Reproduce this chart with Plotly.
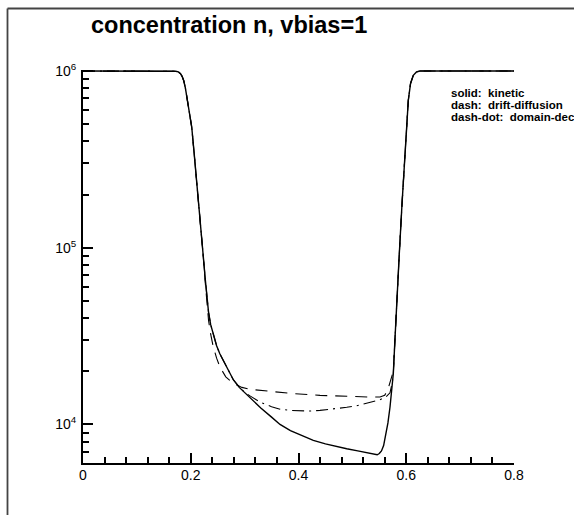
import plotly.graph_objects as go

# ---- data ----
x_kinetic = [0.000, 0.100, 0.165, 0.172, 0.177, 0.181, 0.184, 0.187, 0.190, 0.193, 0.196, 0.199,
             0.2018, 0.2060, 0.2111, 0.2172, 0.2230, 0.2270, 0.2300, 0.2330, 0.2370, 0.2419,
             0.2480, 0.2540, 0.2604, 0.2700, 0.2790, 0.2900, 0.3000, 0.3100, 0.3300, 0.3500,
             0.3657, 0.3850, 0.4050, 0.4275, 0.4500, 0.4700, 0.4895, 0.5100, 0.5300, 0.5400,
             0.5460, 0.5500, 0.5540, 0.5580, 0.5620, 0.5660, 0.5698, 0.5730, 0.5760, 0.5790,
             0.5823, 0.5870, 0.5920, 0.5977, 0.6010, 0.6038, 0.6080, 0.6131, 0.6190, 0.6255,
             0.7000, 0.8000]
n_kinetic = [1.00e6, 1.00e6, 1.00e6, 9.98e5, 9.89e5, 9.66e5, 9.33e5, 8.81e5, 8.04e5, 7.08e5,
             6.17e5, 5.37e5, 4.82e5, 3.51e5, 2.40e5, 1.46e5, 9.12e4, 6.61e4, 5.19e4, 4.32e4,
             3.67e4, 3.20e4, 2.79e4, 2.51e4, 2.29e4, 2.00e4, 1.79e4, 1.62e4, 1.51e4, 1.41e4,
             1.24e4, 1.10e4, 1.00e4, 9.23e3, 8.67e3, 8.13e3, 7.76e3, 7.50e3, 7.28e3, 7.08e3,
             6.89e3, 6.76e3, 6.73e3, 6.84e3, 7.08e3, 7.59e3, 8.61e3, 1.02e4, 1.25e4, 1.55e4,
             1.94e4, 3.02e4, 5.04e4, 9.12e4, 1.74e5, 3.56e5, 5.25e5, 6.82e5, 8.51e5, 9.46e5,
             9.89e5, 1.00e6, 1.00e6, 1.00e6]

x_drift = [0.000, 0.100, 0.165, 0.172, 0.177, 0.181, 0.184, 0.187, 0.190, 0.193, 0.196, 0.199,
           0.2018, 0.2060, 0.2111, 0.2172, 0.2230, 0.2270, 0.2300, 0.2330, 0.2370, 0.2413,
           0.2480, 0.2543, 0.2650, 0.2784, 0.2950, 0.3100, 0.3470, 0.3840, 0.4400, 0.4895,
           0.5300, 0.5513, 0.5600, 0.5660, 0.5715, 0.5760, 0.5790, 0.5823, 0.5870, 0.5920,
           0.5977, 0.6010, 0.6038, 0.6080, 0.6131, 0.6190, 0.6255, 0.7000, 0.8000]
n_drift = [1.00e6, 1.00e6, 1.00e6, 9.98e5, 9.89e5, 9.66e5, 9.33e5, 8.81e5, 8.04e5, 7.08e5,
           6.17e5, 5.37e5, 4.82e5, 3.51e5, 2.40e5, 1.46e5, 9.12e4, 6.31e4, 4.79e4, 3.89e4,
           3.24e4, 2.79e4, 2.37e4, 2.11e4, 1.86e4, 1.71e4, 1.62e4, 1.58e4, 1.54e4, 1.50e4,
           1.46e4, 1.44e4, 1.43e4, 1.43e4, 1.46e4, 1.58e4, 1.82e4, 2.00e4, 3.02e4, 5.04e4,
           9.12e4, 1.74e5, 3.56e5, 5.25e5, 6.82e5, 8.51e5, 9.46e5, 9.89e5, 1.00e6, 1.00e6, 1.00e6]

x_domain = [0.000, 0.100, 0.165, 0.172, 0.177, 0.181, 0.184, 0.187, 0.190, 0.193, 0.196, 0.199,
            0.2018, 0.2060, 0.2111, 0.2172, 0.2230, 0.2270, 0.2300, 0.2330, 0.2370, 0.2419,
            0.2480, 0.2540, 0.2604, 0.2700, 0.2790, 0.2900, 0.3000, 0.3100, 0.3300, 0.3500,
            0.3657, 0.3850, 0.4028, 0.4200, 0.4399, 0.4650, 0.4895, 0.5100, 0.5266, 0.5400,
            0.5513, 0.5620, 0.5698, 0.5740, 0.5760, 0.5790, 0.5823, 0.5870, 0.5920, 0.5977,
            0.6010, 0.6038, 0.6080, 0.6131, 0.6190, 0.6255, 0.7000, 0.8000]
n_domain = [1.00e6, 1.00e6, 1.00e6, 9.98e5, 9.89e5, 9.66e5, 9.33e5, 8.81e5, 8.04e5, 7.08e5,
            6.17e5, 5.37e5, 4.82e5, 3.51e5, 2.40e5, 1.46e5, 9.12e4, 6.61e4, 5.19e4, 4.32e4,
            3.67e4, 3.20e4, 2.79e4, 2.51e4, 2.29e4, 2.00e4, 1.79e4, 1.63e4, 1.52e4, 1.45e4,
            1.33e4, 1.26e4, 1.22e4, 1.20e4, 1.19e4, 1.19e4, 1.20e4, 1.22e4, 1.25e4, 1.28e4,
            1.32e4, 1.35e4, 1.38e4, 1.43e4, 1.51e4, 1.72e4, 1.94e4, 3.02e4, 5.04e4, 9.12e4,
            1.74e5, 3.56e5, 5.25e5, 6.82e5, 8.51e5, 9.46e5, 9.89e5, 1.00e6, 1.00e6, 1.00e6]

x_ticks = [0, 0.2, 0.4, 0.6, 0.8]
x_ticktext = ["0", "0.2", "0.4", "0.6", "0.8"]
x_minor = [0.04, 0.08, 0.12, 0.16, 0.24, 0.28, 0.32, 0.36, 0.44, 0.48, 0.52, 0.56,
           0.64, 0.68, 0.72, 0.76]
y_ticks = [1e4, 1e5, 1e6]
y_ticktext = ["10<sup>4</sup>", "10<sup>5</sup>", "10<sup>6</sup>"]
y_minor = [6e3, 7e3, 8e3, 9e3, 2e4, 3e4, 4e4, 5e4, 6e4, 7e4, 8e4, 9e4,
           2e5, 3e5, 4e5, 5e5, 6e5, 7e5, 8e5, 9e5]

title_text = "concentration n, vbias=1"
legend_lines = ["solid:  kinetic", "dash:  drift-diffusion", "dash-dot:  domain-decomposition"]

FONT = "Liberation Sans, Arial, Helvetica, sans-serif"

fig = go.Figure()
fig.add_trace(go.Scatter(x=x_drift, y=n_drift, mode="lines",
                         line=dict(color="#000000", width=1.1, dash="12px,8px")))
fig.add_trace(go.Scatter(x=x_domain, y=n_domain, mode="lines",
                         line=dict(color="#000000", width=1.1, dash="12px,5px,2px,5px")))
fig.add_trace(go.Scatter(x=x_kinetic, y=n_kinetic, mode="lines",
                         line=dict(color="#000000", width=1.4)))

W, H = 574, 515
ml, mr, mt, mb = 83, 60, 70, 52
pw, ph = W - ml - mr, H - mt - mb


def px_x(p):
    return (p - ml) / pw


def px_y(p):
    return (H - mb - p) / ph


fig.update_layout(
    width=W, height=H,
    margin=dict(l=ml, r=mr, t=mt, b=mb, pad=0),
    paper_bgcolor="white", plot_bgcolor="white",
    showlegend=False,
    font=dict(family=FONT, color="black"),
    xaxis=dict(range=[0, 0.8], tickmode="array", tickvals=x_ticks, ticktext=x_ticktext,
               showgrid=False, zeroline=False, showline=True, linecolor="black", linewidth=2,
               ticks="inside", ticklen=10, tickwidth=2, tickcolor="black",
               tickfont=dict(size=14, family=FONT), ticklabelstandoff=-2,
               minor=dict(tickmode="array", tickvals=x_minor, ticks="inside", ticklen=6,
                          tickwidth=1.5, tickcolor="black", showgrid=False)),
    yaxis=dict(type="log", range=[3.7816, 6.006], tickmode="array", tickvals=y_ticks,
               ticktext=y_ticktext,
               showgrid=False, zeroline=False, showline=True, linecolor="black", linewidth=2,
               ticks="inside", ticklen=10, tickwidth=2, tickcolor="black",
               tickfont=dict(size=14, family=FONT), ticklabelstandoff=2,
               minor=dict(tickmode="array", tickvals=y_minor, ticks="inside", ticklen=6,
                          tickwidth=1.5, tickcolor="black", showgrid=False)),
)

# outer frame (top and left edges visible)
fig.add_shape(type="line", xref="paper", yref="paper", x0=px_x(7.5), x1=px_x(W + 5),
              y0=px_y(8.5), y1=px_y(8.5), line=dict(color="#444444", width=1.8))
fig.add_shape(type="line", xref="paper", yref="paper", x0=px_x(7.5), x1=px_x(7.5),
              y0=px_y(8.5), y1=px_y(H + 5), line=dict(color="#444444", width=1.8))

fig.add_annotation(text="<b>" + title_text + "</b>", xref="paper", yref="paper",
                   x=px_x(89), y=px_y(25), xanchor="left", yanchor="middle",
                   showarrow=False, font=dict(size=23.5, family=FONT, color="black"))

for i, t in enumerate(legend_lines):
    fig.add_annotation(text="<b>" + t + "</b>", xref="paper", yref="paper",
                       x=px_x(449), y=px_y(92.7 + 12 * i), xanchor="left", yanchor="middle",
                       showarrow=False, font=dict(size=11.5, family=FONT, color="black"))

fig.write_html("out.html", config={"displayModeBar": False},
               post_script="document.body.style.margin='0px';")
